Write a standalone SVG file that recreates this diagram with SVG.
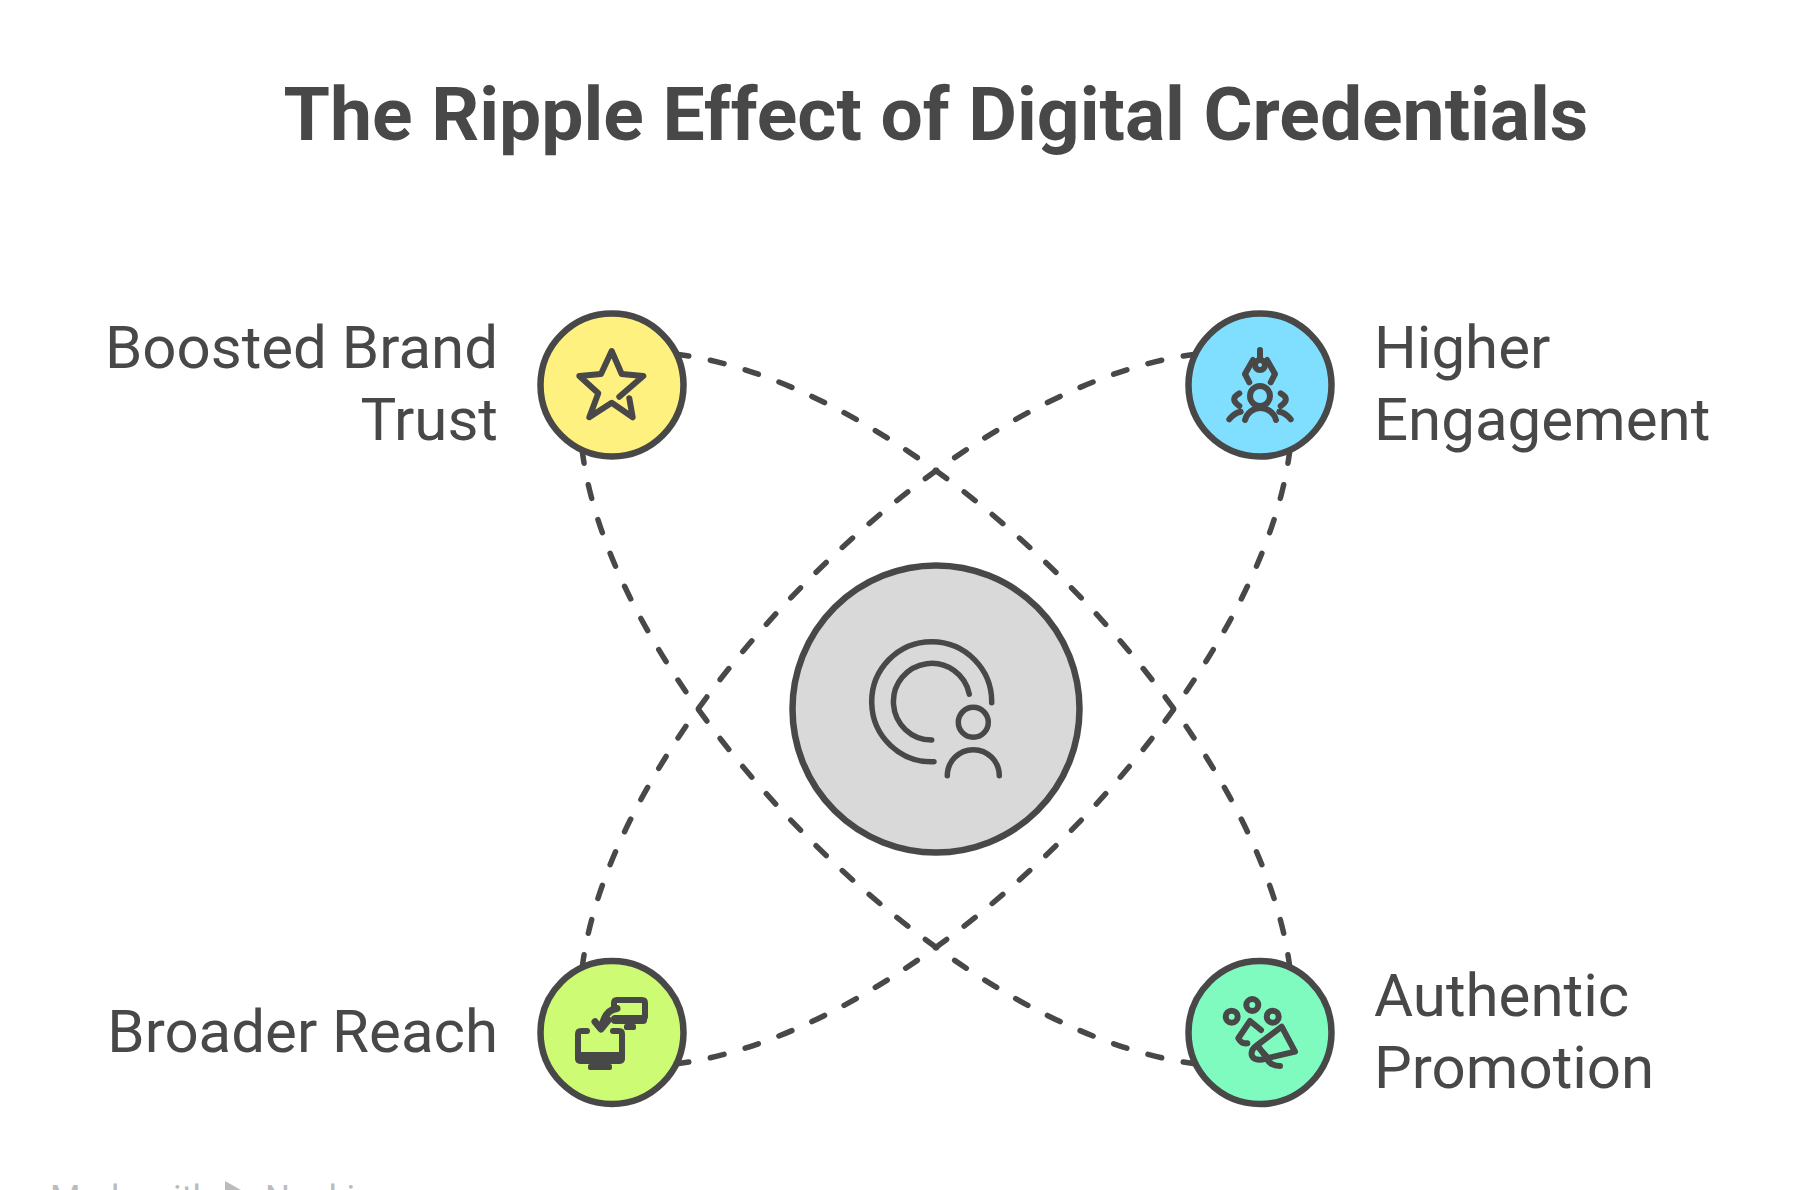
<svg xmlns="http://www.w3.org/2000/svg" width="1800" height="1190" viewBox="0 0 1800 1190">
<style>
text{font-family:Roboto,"Liberation Sans",sans-serif;fill:#484848}
.title{font-size:75px;font-weight:700;text-anchor:middle}
.lab{font-size:60px}
.r{text-anchor:end}
.c{stroke:#484848;stroke-width:6.500}
.i{fill:none;stroke:#484848;stroke-width:6;stroke-linecap:round;stroke-linejoin:round}
.f{fill:#484848}
.d{fill:none;stroke:#484848;stroke-width:5.500;stroke-linecap:round;stroke-dasharray:14 22}
.wm{font-size:35px;fill:#bbb}
</style>
<rect width="1800" height="1190" fill="#fff"/>
<text class="title" x="936" y="140">The Ripple Effect of Digital Credentials</text>
<g id="connectors">
<path class="d" d="M675 354C922 384 1260 722 1290 969"/>
<path class="d" d="M1197 354C950 384 612 722 582 969"/>
<path class="d" d="M1197 1064C950 1034 612 696 582 449"/>
<path class="d" d="M675 1064C922 1034 1260 696 1290 449"/>
</g>
<g id="center">
<circle class="c" cx="936" cy="709" r="143.500" fill="#d9d9d9"/>
<path class="i" style="stroke-width:5.500" d="M934 761.700A60 60 0 1 1 991.700 702.700M931.700 740A38.300 38.300 0 1 1 969.300 694.300"/>
<circle class="i" style="stroke-width:5.500" cx="973.300" cy="722.300" r="15"/>
<path class="i" style="stroke-width:5.500" d="M947.300 775.700A26 26 0 0 1 999.300 775.700"/>
</g>
<g id="boosted-brand-trust">
<circle class="c" cx="612" cy="385" r="71.500" fill="#fff180"/>
<path class="i" d="M619.300 396.700L643.300 376L621.700 374L611.700 351L601 374L579.300 376L598.300 393.300L589.300 417.300L611.700 402.700L632.700 417.300L629.300 398.300"/>
<text class="lab r" x="498" y="368">Boosted Brand</text>
<text class="lab r" x="498" y="440">Trust</text>
</g>
<g id="higher-engagement">
<circle class="c" cx="1260" cy="385" r="71.500" fill="#80deff"/>
<circle class="i" cx="1260" cy="365" r="5"/>
<path class="i" d="M1260 350V357M1253 360L1245 374L1249.300 382.300M1267 360L1275 374L1270.700 382.300"/>
<circle class="i" cx="1260" cy="396" r="10"/>
<path class="i" d="M1245 420A16 16 0 0 1 1276 420M1239.300 393.300Q1229 399 1239.300 406M1280.700 393.300Q1291 399 1280.700 406M1229.300 419.300Q1234 413 1240.700 411.700M1290.700 419.300Q1286 413 1279.300 411.700"/>
<text class="lab" x="1374" y="368">Higher</text>
<text class="lab" x="1374" y="440">Engagement</text>
</g>
<g id="broader-reach">
<circle class="c" cx="612" cy="1032.500" r="71.500" fill="#cdfb73"/>
<path class="i" d="M614 1006V1003Q614 1000 617 1000H642Q645 1000 645 1003V1017"/>
<rect class="f" x="611" y="1015" width="36" height="9" rx="4"/>
<rect class="f" x="624" y="1024" width="12" height="6" rx="2"/>
<path class="i" d="M587 1031H581Q578 1031 578 1034V1056M613 1031H619Q622 1031 622 1034V1056"/>
<rect class="f" x="575" y="1052" width="50" height="12" rx="5"/>
<rect class="f" x="588" y="1064" width="24" height="6" rx="2"/>
<path class="i" style="stroke-width:7" d="M617 1008.500Q605 1010 602 1026.500M595 1021.700L601 1029L608.300 1020"/>
<text class="lab r" x="498" y="1052">Broader Reach</text>
</g>
<g id="authentic-promotion">
<circle class="c" cx="1260" cy="1032.500" r="71.500" fill="#80fbc0"/>
<circle class="i" cx="1231.700" cy="1016.700" r="6"/>
<circle class="i" cx="1252.300" cy="1005" r="6"/>
<circle class="i" cx="1272.700" cy="1016.700" r="6"/>
<path class="i" d="M1261 1030L1250 1021L1238.300 1038.300Q1241 1044 1247.300 1043.300"/>
<path class="i" d="M1281.700 1026.700L1295 1051.700L1266.700 1058.300L1257.300 1045ZM1257.300 1045Q1250 1050 1252 1056Q1255 1062 1266.700 1058.300M1266.700 1058.300Q1270 1066 1280 1066M1259 1048L1268 1058"/>
<text class="lab" x="1374" y="1016">Authentic</text>
<text class="lab" x="1374" y="1088">Promotion</text>
</g>
<g id="watermark">
<text class="wm" x="50" y="1210">Made with</text>
<polygon points="225,1181 225,1215 255,1198" fill="#bbb"/>
<text class="wm" x="265" y="1210">Napkin</text>
</g>
</svg>
